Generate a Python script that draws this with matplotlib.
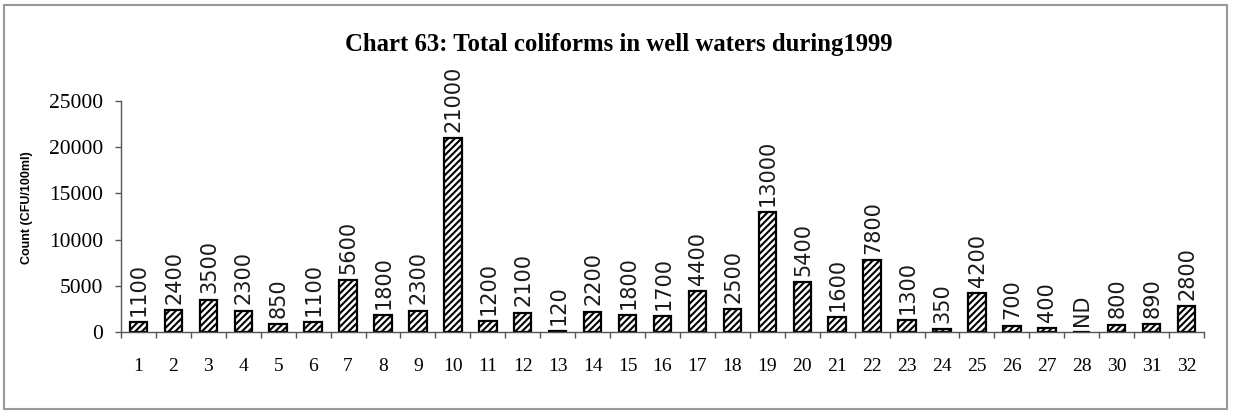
import matplotlib
matplotlib.use("Agg")
import matplotlib.pyplot as plt
from matplotlib.patches import Rectangle
from matplotlib.ticker import FixedLocator

categories = ["1", "2", "3", "4", "5", "6", "7", "8", "9", "10", "11", "12", "13", "14", "15", "16",
              "17", "18", "19", "20", "21", "22", "23", "24", "25", "26", "27", "28", "30", "31", "32"]
values = [1100, 2400, 3500, 2300, 850, 1100, 5600, 1800, 2300, 21000, 1200, 2100, 120, 2200, 1800, 1700,
          4400, 2500, 13000, 5400, 1600, 7800, 1300, 350, 4200, 700, 400, 0, 800, 890, 2800]
value_labels = ["1100", "2400", "3500", "2300", "850", "1100", "5600", "1800", "2300", "21000", "1200",
                "2100", "120", "2200", "1800", "1700", "4400", "2500", "13000", "5400", "1600", "7800",
                "1300", "350", "4200", "700", "400", "ND", "800", "890", "2800"]
y_ticks = [0, 5000, 10000, 15000, 20000, 25000]

title = "Chart 63: Total coliforms in well waters during1999"
ylabel = "Count (CFU/100ml)"

serif = ["Liberation Serif", "DejaVu Serif"]
plt.rcParams["font.family"] = serif
plt.rcParams["hatch.linewidth"] = 1.5

fig = plt.figure(figsize=(12.33, 4.12), dpi=100)
ax = fig.add_axes([121 / 1233, 80 / 412, (1204 - 121) / 1233, (332 - 101) / 412])

x = list(range(len(categories)))
bars = ax.bar(x, values, width=0.5, color="white", edgecolor="black", linewidth=1.6, hatch="/////")

for xi, v, lab in zip(x, values, value_labels):
    ax.annotate(lab, (xi, v), xytext=(0.5, 4.5), textcoords="offset points", rotation=90,
                ha="center", va="bottom", fontsize=15, family=["DejaVu Sans"],
                color="#1a1a1a")

ax.set_xlim(-0.5, len(categories) - 0.5)
ax.set_ylim(0, 25000)
ax.set_yticks(y_ticks)
ax.set_yticklabels([str(t) for t in y_ticks], fontsize=15.5)
ax.set_xticks(x)
ax.set_xticklabels(categories, fontsize=14)
ax.xaxis.set_minor_locator(FixedLocator([i - 0.5 for i in range(len(categories) + 1)]))
ax.tick_params(axis="x", which="major", length=0, pad=19)
ax.tick_params(axis="x", which="minor", length=4, width=1, direction="out", color="#555555")
ax.tick_params(axis="y", which="major", length=4, width=1, direction="out", pad=9, color="#555555")

for s in ["top", "right"]:
    ax.spines[s].set_visible(False)
for s in ["left", "bottom"]:
    ax.spines[s].set_color("#555555")
    ax.spines[s].set_linewidth(1)

fig.text(619 / 1233, 1 - 44 / 412, title, ha="center", va="center", fontsize=17.8,
         fontweight="bold", family=serif)
fig.text(27 / 1233, 1 - 208 / 412, ylabel, ha="center", va="center", rotation=90, fontsize=9,
         fontweight="bold", family=["Liberation Sans", "DejaVu Sans"])

fig.patches.append(Rectangle((4 / 1233, 3 / 412), 1223 / 1233, 404 / 412, transform=fig.transFigure,
                             fill=False, edgecolor="#999999", linewidth=1.5))

fig.savefig("out.png", dpi=100)
